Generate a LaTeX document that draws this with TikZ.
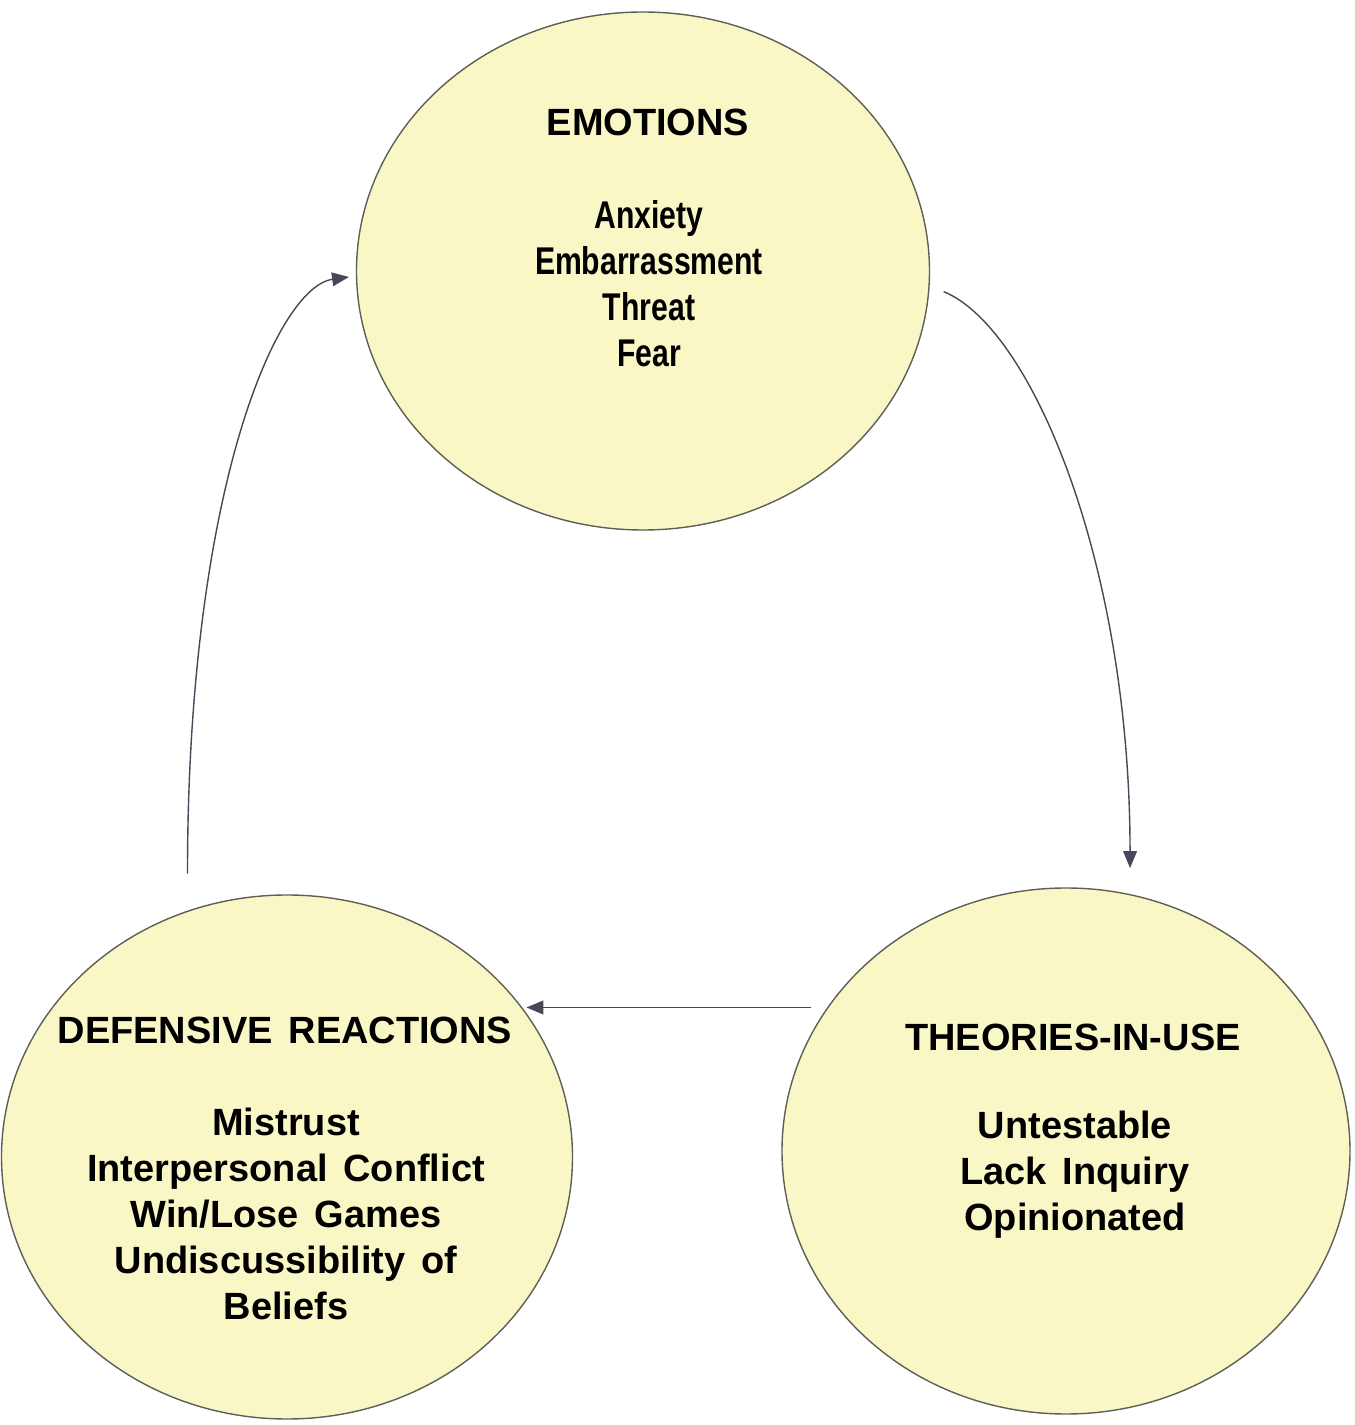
\documentclass[tikz,border=0pt]{standalone}
\usepackage{fontspec}
\setmainfont{Liberation Sans}[WordSpace=1.5]
\newfontfamily\narrowfont{Liberation Sans}[FakeStretch=0.78]
\usetikzlibrary{arrows.meta,shapes.geometric}
\definecolor{blobfill}{RGB}{250,247,198}
\definecolor{blobline}{RGB}{95,95,85}
\definecolor{arrline}{RGB}{70,72,90}

\begin{document}
\begin{tikzpicture}[>={Triangle[length=4.8pt,width=3.9pt]},
  blob/.style={ellipse,draw=blobline,fill=blobfill,line width=0.4pt,inner sep=0pt},
  head/.style={font=\fontsize{10.8}{13}\selectfont\bfseries},
  items/.style={align=center,font=\fontsize{10.8}{13.1}\selectfont\bfseries},
  link/.style={->,draw=arrline,line width=0.4pt}]
  \useasboundingbox (0,0) rectangle (13.55,14.25);
  \node[blob,minimum width=5.73cm,minimum height=5.18cm] (emo) at (6.43,11.54) {};
  \node[blob,minimum width=5.71cm,minimum height=5.24cm] (def) at (2.87,2.68) {};
  \node[blob,minimum width=5.68cm,minimum height=5.26cm] (theo) at (10.66,2.74) {};
  \node[head] (emohead) at (6.48,13.03) {EMOTIONS};
  \node[items,font=\fontsize{11}{13.1}\selectfont\narrowfont\bfseries] (emolist) at (6.49,11.41)
    {Anxiety\\Embarrassment\\Threat\\Fear};
  \node[head] (defhead) at (2.85,3.95) {DEFENSIVE REACTIONS};
  \node[items] (deflist) at (2.86,2.11)
    {Mistrust\\Interpersonal Conflict\\Win/Lose Games\\Undiscussibility of\\Beliefs};
  \node[head] (theohead) at (10.73,3.88) {THEORIES-IN-USE};
  \node[items] (theolist) at (10.75,2.50) {Untestable\\Lack Inquiry\\Opinionated};
  \draw[link,shorten <=3.7mm,shorten >=0.7mm] (def.112.6)
    to[out=90,in=188,out distance=4.2cm,in distance=0.8cm] (emo.181.5);
  \draw[link,shorten <=1.5mm,shorten >=2.6mm] (emo.-3)
    to[out=-22,in=90,out distance=1.1cm,in distance=3.3cm] (theo.76.6);
  \draw[link,shorten <=1.6mm] (theo.149.7) -- (def.31.7 |- theo.149.7);
\end{tikzpicture}
\end{document}
